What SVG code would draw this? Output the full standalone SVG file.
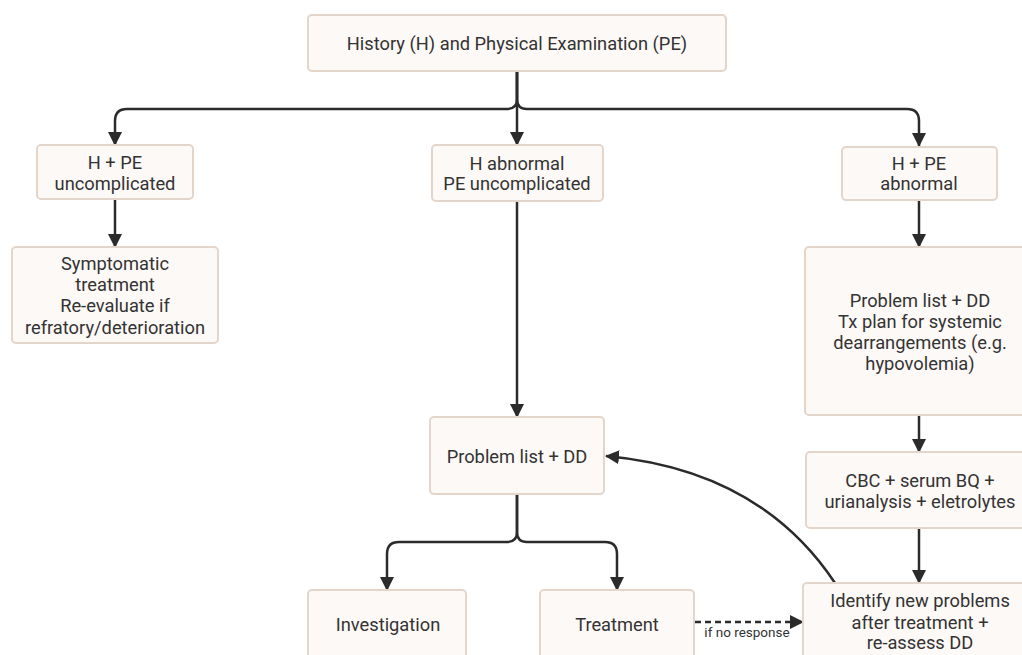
<svg xmlns="http://www.w3.org/2000/svg" width="1022" height="655" viewBox="0 0 1022 655">
<style>
.box{fill:#fdf9f6;stroke:#e4d5cb;stroke-width:2}
.t{font-family:Roboto,"Liberation Sans",sans-serif;font-size:18.3px;fill:#333;text-anchor:middle}
.s{font-family:Roboto,"Liberation Sans",sans-serif;font-size:13.5px;fill:#333;text-anchor:middle}
.c{fill:none;stroke:#2b2b2b;stroke-width:2.5}
.d{fill:none;stroke:#2b2b2b;stroke-width:2.5;stroke-dasharray:6,4}
</style>
<defs>
<marker id="ah" markerUnits="userSpaceOnUse" markerWidth="14" markerHeight="14" viewBox="0 0 14 14" refX="13" refY="7" orient="auto">
<path d="M0,0 L14,7 L0,14 z" fill="#2b2b2b"/>
</marker>
</defs>
<rect width="1022" height="655" fill="#ffffff"/>
<g id="connectors">
<path class="c" d="M517,71 V99 Q517,109 507,109 H127 Q115,109 115,121 V145" marker-end="url(#ah)"/>
<path class="c" d="M517,71 V99 Q517,109 527,109 H907 Q919,109 919,121 V146" marker-end="url(#ah)"/>
<path class="c" d="M517,71 V145" marker-end="url(#ah)"/>
<path class="c" d="M115,199 V247" marker-end="url(#ah)"/>
<path class="c" d="M517,201 V417" marker-end="url(#ah)"/>
<path class="c" d="M919,200 V247" marker-end="url(#ah)"/>
<path class="c" d="M919,415 V452" marker-end="url(#ah)"/>
<path class="c" d="M919,528 V583" marker-end="url(#ah)"/>
<path class="c" d="M517,494 V532 Q517,542 507,542 H399 Q387,542 387,554 V590" marker-end="url(#ah)"/>
<path class="c" d="M517,494 V532 Q517,542 527,542 H605 Q617,542 617,554 V590" marker-end="url(#ah)"/>
<path class="c" d="M835,583 Q760,470 606,456" marker-end="url(#ah)"/>
<path class="d" d="M695,622 H803" marker-end="url(#ah)"/>
<text class="s" x="747" y="637">if no response</text>
</g>
<g id="n-top"><rect class="box" x="308" y="15" width="418" height="56" rx="4"/><text class="t" x="517" y="50">History (H) and Physical Examination (PE)</text></g>
<g id="n-left"><rect class="box" x="37" y="145" width="156" height="54" rx="4"/><text class="t" x="115" y="168.5">H + PE</text><text class="t" x="115" y="189.5">uncomplicated</text></g>
<g id="n-mid"><rect class="box" x="432" y="145" width="171" height="56" rx="4"/><text class="t" x="517" y="169.5">H abnormal</text><text class="t" x="517" y="189.5">PE uncomplicated</text></g>
<g id="n-right"><rect class="box" x="842" y="147" width="155" height="53" rx="4"/><text class="t" x="919" y="169.5">H + PE</text><text class="t" x="919" y="189.5">abnormal</text></g>
<g id="n-sympt"><rect class="box" x="12" y="247" width="206" height="96" rx="4"/><text class="t" x="115" y="269.5">Symptomatic</text><text class="t" x="115" y="290.5">treatment</text><text class="t" x="115" y="312">Re-evaluate if</text><text class="t" x="115" y="333.5">refratory/deterioration</text></g>
<g id="n-plan"><rect class="box" x="805" y="247" width="230" height="168" rx="4"/><text class="t" x="920" y="306.5">Problem list + DD</text><text class="t" x="920" y="327.5">Tx plan for systemic</text><text class="t" x="920" y="348.5">dearrangements (e.g.</text><text class="t" x="920" y="369.5">hypovolemia)</text></g>
<g id="n-cbc"><rect class="box" x="806" y="452" width="229" height="76" rx="4"/><text class="t" x="920" y="486.5">CBC + serum BQ +</text><text class="t" x="920" y="507.5">urianalysis + eletrolytes</text></g>
<g id="n-identify"><rect class="box" x="803" y="583" width="232" height="90" rx="4"/><text class="t" x="920" y="606.5">Identify new problems</text><text class="t" x="920" y="628.5">after treatment +</text><text class="t" x="920" y="648.5">re-assess DD</text></g>
<g id="n-problem"><rect class="box" x="430" y="417" width="174" height="77" rx="4"/><text class="t" x="517" y="462.5">Problem list + DD</text></g>
<g id="n-invest"><rect class="box" x="308" y="590" width="158" height="80" rx="4"/><text class="t" x="388" y="630.5">Investigation</text></g>
<g id="n-treat"><rect class="box" x="540" y="590" width="154" height="80" rx="4"/><text class="t" x="617" y="630.5">Treatment</text></g>
</svg>
